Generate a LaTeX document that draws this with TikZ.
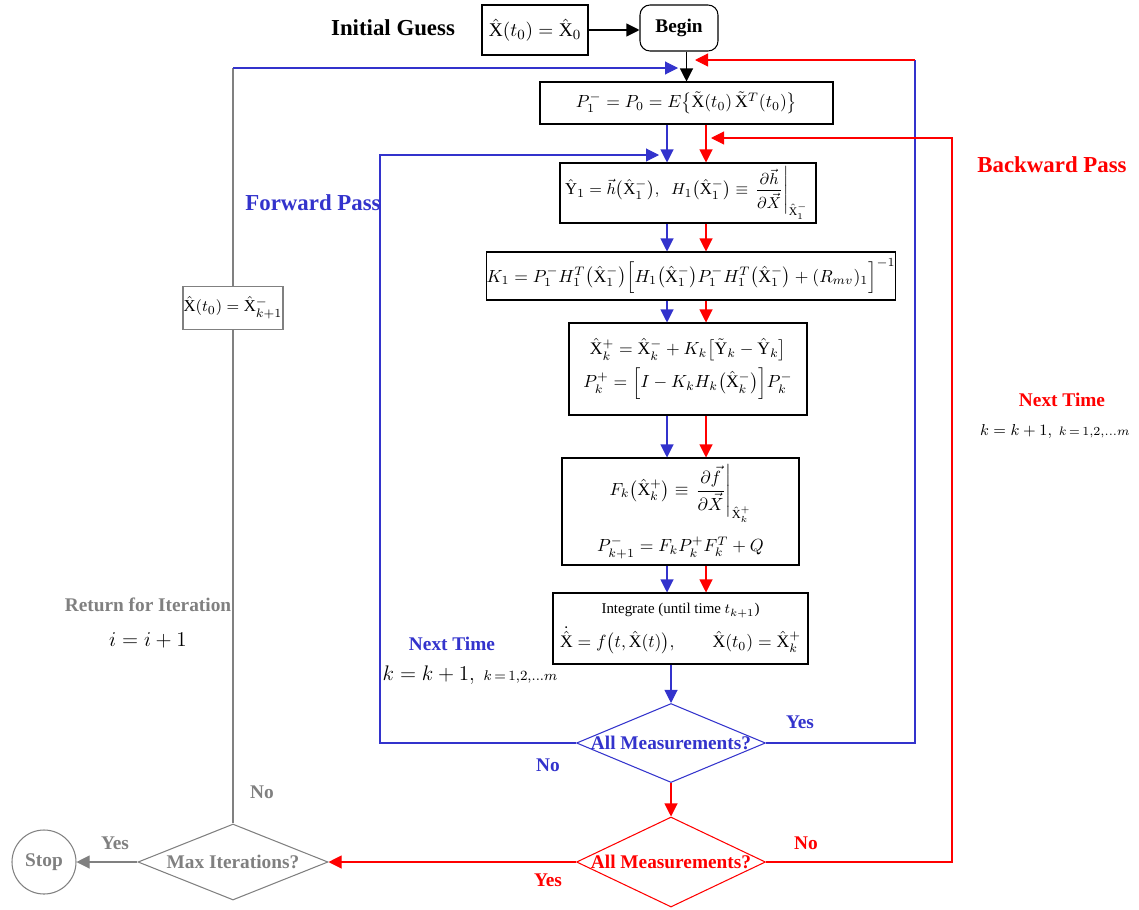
\documentclass[tikz,border=0pt]{standalone}
\usepackage{amsmath}
\usepackage{fontspec}
\setmainfont{Liberation Serif}
\usetikzlibrary{arrows.meta, shapes.geometric}

\definecolor{fwdblue}{RGB}{51,51,204}
\definecolor{bwdred}{RGB}{255,0,0}
\definecolor{itgray}{RGB}{128,128,128}

\newcommand{\Xh}{\hat{\mathrm{X}}}
\newcommand{\Xt}{\tilde{\mathrm{X}}}
\newcommand{\Yh}{\hat{\mathrm{Y}}}
\newcommand{\Yt}{\tilde{\mathrm{Y}}}

\begin{document}
\begin{tikzpicture}[x=0.2mm, y=-0.2mm, line width=0.6pt,
  eqbox/.style={draw, inner sep=0pt, align=center, font=\fontsize{10}{12}\selectfont},
  decide/.style={draw, diamond, inner sep=0pt},
  lbl/.style={font=\fontsize{11}{13}\selectfont\bfseries},
  head/.style={font=\fontsize{13}{15}\selectfont\bfseries},
  stepno/.style={font=\fontsize{12}{14}\selectfont},
  tip/.style={-{Triangle[length=2.6mm, width=2.6mm]}}]
  \useasboundingbox (0,0) rectangle (1139,909);

  % initial guess
  \node[head] (guess) at (393,28) {Initial Guess};
  \node[eqbox, minimum width=21.2mm, minimum height=10mm, font=\fontsize{11}{13}\selectfont] (init) at (535,30) {$\Xh(t_0) = \Xh_0$};
  \node[draw, rounded corners=2mm, minimum width=15.6mm, minimum height=9.2mm, lbl] (begin) at (679,28) {Begin};
  \draw[tip] (init.east) -- (init.east -| begin.west);

  % filter steps
  \node[eqbox, minimum width=58.6mm, minimum height=8.4mm] (p0) at (686.5,103)
    {$P_1^- = P_0 = E\bigl\{\Xt(t_0)\,\Xt^T(t_0)\bigr\}$};
  \node[eqbox, minimum width=50mm, minimum height=12mm, font=\fontsize{9.5}{11}\selectfont] (meas) at (688,193)
    {\hspace{1mm}$\Yh_1 = \vec{h}\bigl(\Xh_1^-\bigr),\;\; H_1\bigl(\Xh_1^-\bigr) \equiv \left.\dfrac{\partial\vec{h}}{\partial\vec{X}}\right|_{\Xh_1^-}$\hspace{1.5mm}};
  \node[eqbox, minimum width=80.4mm, minimum height=9.6mm] (gain) at (691,276)
    {$K_1 = P_1^- H_1^T\bigl(\Xh_1^-\bigr)\Bigl[H_1\bigl(\Xh_1^-\bigr)P_1^- H_1^T\bigl(\Xh_1^-\bigr) + (R_{mv})_1\Bigr]^{-1}$};
  \node[eqbox, minimum width=47.6mm, minimum height=18.4mm] (upd) at (688,369)
    {$\Xh_k^+ = \Xh_k^- + K_k\bigl[\Yt_k - \Yh_k\bigr]$\\[1mm] $P_k^+ = \Bigl[I - K_k H_k\bigl(\Xh_k^-\bigr)\Bigr]P_k^-$};
  \node[eqbox, minimum width=47.4mm, minimum height=21.4mm] (jac) at (680.5,511.5)
    {$F_k\bigl(\Xh_k^+\bigr) \equiv \left.\dfrac{\partial\vec{f}}{\partial\vec{X}}\right|_{\Xh_k^+}$\\[2.5mm] $P_{k+1}^- = F_k P_k^+ F_k^T + Q$};
  \node[eqbox, minimum width=51mm, minimum height=14.2mm] (integ) at (680.5,628.5)
    {{\fontsize{8.5}{10}\selectfont Integrate (until time $t_{k+1}$)}\\[1.5mm] $\dot{\Xh} = f\bigl(t, \Xh(t)\bigr), \qquad \Xh(t_0) = \Xh_k^+$};

  % decisions
  \node[decide, draw=fwdblue, minimum width=37.8mm, minimum height=15.8mm] (fwd) at (671,743) {};
  \node[lbl, text=fwdblue] (fwdq) at (fwd) {All Measurements?};
  \node[decide, draw=bwdred, minimum width=37.8mm, minimum height=18mm] (bwd) at (671,862) {};
  \node[lbl, text=bwdred] (bwdq) at (bwd) {All Measurements?};
  \node[decide, draw=itgray, minimum width=38mm, minimum height=15.2mm] (maxit) at (233,862) {};
  \node[lbl, text=itgray] (maxq) at (maxit) {Max Iterations?};
  \node[draw=itgray, circle, minimum size=12.8mm, inner sep=0pt, lbl, text=itgray] (stop) at (44,862) {Stop};
  \node[eqbox, draw=itgray, minimum width=20mm, minimum height=8.6mm, font=\fontsize{9.5}{11}\selectfont] (reinit) at (233,308) {$\Xh(t_0) = \Xh_{k+1}^-$};

  % loop corners
  \coordinate (ftop) at (233,68);
  \coordinate (fin) at (678,68);
  \coordinate (ycorner) at (915,60);
  \coordinate (bin) at (695,60);
  \coordinate (floop) at (380,155);
  \coordinate (fback) at (659,155);
  \coordinate (bloop) at (952,138);
  \coordinate (bback) at (711,138);
  \coordinate (blane) at (667,0);
  \coordinate (rlane) at (706,0);

  % connectors
  \draw[tip] (begin.south -| p0.north) -- (p0.north);
  \foreach \a/\b in {p0/meas, meas/gain, gain/upd, upd/jac, jac/integ} {
    \draw[fwdblue, tip] (\a.south -| blane) -- (\b.north -| blane);
    \draw[bwdred, tip] (\a.south -| rlane) -- (\b.north -| rlane);
  }
  \draw[fwdblue, tip] (integ.south -| fwd.north) -- (fwd.north);
  \draw[bwdred, tip] (fwd.south) -- (bwd.north);
  \draw[fwdblue, tip] (fwd.west) -| (floop) -- (fback);
  \draw[fwdblue, line width=1.4pt] (fwd.east) -| (ycorner);
  \draw[bwdred, tip] (ycorner) -- (bin);
  \draw[bwdred, tip] (bwd.east) -| (bloop) -- (bback);
  \draw[bwdred, tip] (bwd.west) -- (maxit.east);
  \draw[itgray, tip] (maxit.west) -- (stop.east);
  \draw[itgray] (maxit.north) -- (reinit.south);
  \draw[itgray] (reinit.north) -- (ftop);
  \draw[fwdblue, tip] (ftop) -- (fin);

  % labels
  \node[head, text=fwdblue] (fwdlbl) at (313,203) {Forward Pass};
  \node[head, text=bwdred] (bwdlbl) at (1052,165) {Backward Pass};
  \node[lbl, text=bwdred] (bnext) at (1062,400) {Next Time};
  \node[stepno, font=\fontsize{9.5}{11}\selectfont, anchor=east] (bstep) at (1136,432) {$k = k+1,\ {\scriptstyle k\,=\,1,2,\ldots m}$};
  \node[lbl, text=fwdblue] (fnext) at (452,644) {Next Time};
  \node[stepno] (fstep) at (470,675) {$k = k+1,\ {\scriptstyle k\,=\,1,2,\ldots m}$};
  \node[lbl, text=itgray] (ret) at (148,605) {Return for Iteration};
  \node[stepno] (iinc) at (148,640) {$i = i+1$};
  \node[lbl, text=fwdblue] (fyes) at (800,722) {Yes};
  \node[lbl, text=fwdblue] (fno) at (548,765) {No};
  \node[lbl, text=bwdred] (bno) at (806,843) {No};
  \node[lbl, text=bwdred] (byes) at (548,880) {Yes};
  \node[lbl, text=itgray] (myes) at (115,843) {Yes};
  \node[lbl, text=itgray] (mno) at (262,792) {No};
\end{tikzpicture}
\end{document}
